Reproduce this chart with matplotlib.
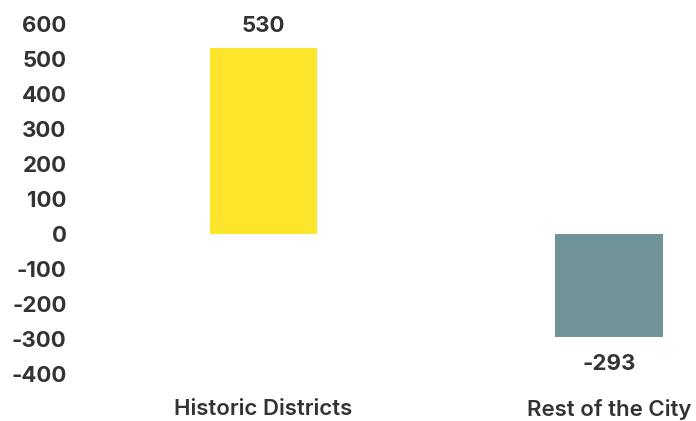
import matplotlib
matplotlib.use('Agg')
import matplotlib.pyplot as plt

# data
categories = ['Historic Districts', 'Rest of the City']
values = [530, -293]
bar_colors = ['#FDE52B', '#6F9396']
yticks = [600, 500, 400, 300, 200, 100, 0, -100, -200, -300, -400]

plt.rcParams['font.family'] = ['Inter', 'DejaVu Sans']
text_color = '#333333'
fsize = 16

fig = plt.figure(figsize=(6.96, 4.21), dpi=100)
# axes placed in pixels: 0 -> x=263.5px, 1 -> x=609px; 600 at y=24px, -400 at y=374px
left_px, right_px = 75, 696
scale = 345.5
ax = fig.add_axes([left_px / 696, 47 / 421, (right_px - left_px) / 696, 350 / 421])
ax.set_xlim((left_px - 263.5) / scale, (right_px - 263.5) / scale)
ax.set_ylim(-400, 600)

x = list(range(len(categories)))
bars = ax.bar(x, values, width=0.31, color=bar_colors)

for xi, v in zip(x, values):
    if v >= 0:
        ax.text(xi, v + 65, str(v), ha='center', va='center', fontsize=fsize,
                fontweight='bold', color=text_color)
    else:
        ax.text(xi, v - 77, str(v), ha='center', va='center', fontsize=fsize,
                fontweight='bold', color=text_color)

ax.set_yticks(yticks)
ax.set_yticklabels([str(t) for t in yticks])
ax.set_xticks(x)
ax.set_xticklabels(categories)
ax.tick_params(axis='y', length=0, pad=6, labelsize=fsize, labelcolor=text_color)
ax.tick_params(axis='x', length=0, pad=18, labelsize=fsize, labelcolor=text_color)
for lbl in ax.get_yticklabels():
    lbl.set_fontweight('bold')
for lbl in ax.get_xticklabels():
    lbl.set_fontweight('semibold')

for s in ax.spines.values():
    s.set_visible(False)

fig.savefig('out.png', dpi=100)
